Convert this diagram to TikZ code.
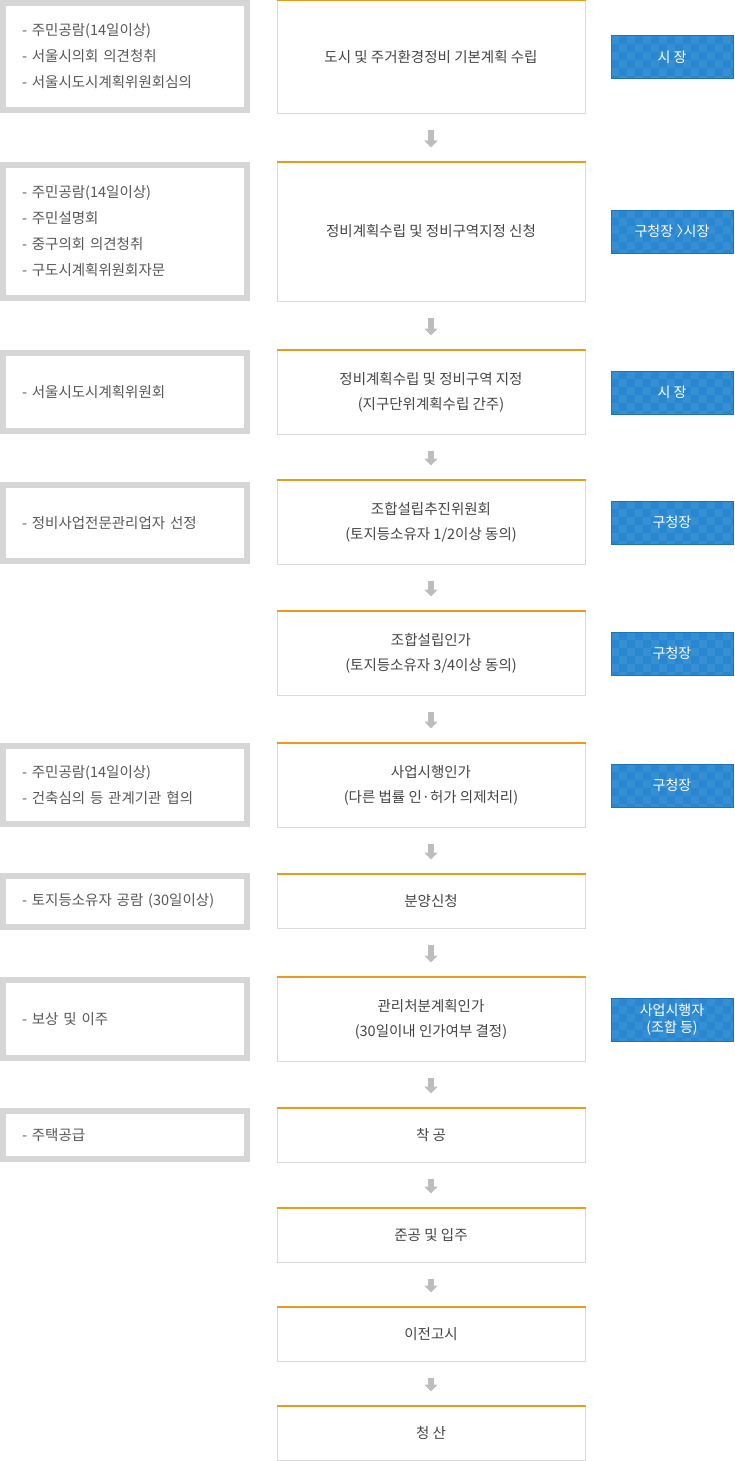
\documentclass[tikz,border=0pt]{standalone}
\usepackage{fontspec}
\setmainfont{Noto Sans CJK KR}
\usetikzlibrary{arrows.meta}
\definecolor{stepLineGray}{HTML}{D9D9D9}
\definecolor{noteGray}{HTML}{D6D6D6}
\definecolor{topOrange}{HTML}{E89B1E}
\definecolor{roleBlue}{HTML}{2887D0}
\definecolor{arrowGray}{HTML}{BDBDBD}
\definecolor{textGray}{HTML}{444444}
\tikzstyle{stepBox}=[draw = stepLineGray, line width = 1pt, minimum width = 308pt, inner sep = 0pt, align = center, text = textGray, font = \fontsize{14.5}{25}\selectfont]
\tikzstyle{noteBox}=[draw = noteGray, line width = 6pt, inner xsep = 19pt, inner ysep = 0pt, text width = 206pt, align = left, text = textGray!90, font = \fontsize{14.5}{26}\selectfont]
\tikzstyle{roleBox}=[fill = roleBlue, draw = roleBlue!85!black, line width = 1pt, minimum width = 122pt, minimum height = 43pt, inner sep = 0pt, align = center, text = white, font = \fontsize{14}{17}\selectfont,
  path picture = {\foreach \i in {0,...,15} \foreach \j in {0,...,5} {\pgfmathparse{int(mod(\i+\j,2))}
    \ifnum\pgfmathresult=0 \fill[white, opacity = 0.07] ([xshift = \i*8pt, yshift = -\j*8pt]path picture bounding box.north west) rectangle ++(8pt,-8pt);\fi}}]

\begin{document}
\begin{tikzpicture}[x = 1pt, y = -1pt]
\tikzstyle{topLine} = [draw = topOrange, line width = 2pt]
\tikzstyle{downArrow} = [draw = arrowGray, line width = 6pt, -{Triangle[width = 13pt, length = 7pt]}, shorten <= 16pt, shorten >= 14pt]
\useasboundingbox (0,0) rectangle (734,1461);
% main steps
\node[stepBox, minimum height = 113pt] (s1) at (431, 57.5) {도시 및 주거환경정비 기본계획 수립};
\node[stepBox, minimum height = 139pt] (s2) at (431, 231.5) {정비계획수립 및 정비구역지정 신청};
\node[stepBox, minimum height = 84pt] (s3) at (431, 392) {정비계획수립 및 정비구역 지정\\(지구단위계획수립 간주)};
\node[stepBox, minimum height = 84pt] (s4) at (431, 522) {조합설립추진위원회\\(토지등소유자 1/2이상 동의)};
\node[stepBox, minimum height = 84pt] (s5) at (431, 653) {조합설립인가\\(토지등소유자 3/4이상 동의)};
\node[stepBox, minimum height = 84pt] (s6) at (431, 785) {사업시행인가\\(다른 법률 인·허가 의제처리)};
\node[stepBox, minimum height = 54pt] (s7) at (431, 901) {분양신청};
\node[stepBox, minimum height = 84pt] (s8) at (431, 1019) {관리처분계획인가\\(30일이내 인가여부 결정)};
\node[stepBox, minimum height = 54pt] (s9) at (431, 1135) {착 공};
\node[stepBox, minimum height = 54pt] (s10) at (431, 1235) {준공 및 입주};
\node[stepBox, minimum height = 54pt] (s11) at (431, 1334) {이전고시};
\node[stepBox, minimum height = 54pt] (s12) at (431, 1433) {청 산};
\foreach \n in {s1,s2,s3,s4,s5,s6,s7,s8,s9,s10,s11,s12}
  \draw[topLine] (\n.north west) -- (\n.north east);
% procedures
\node[noteBox, minimum height = 107pt] (n1) at (125, 56.5) {- 주민공람(14일이상)\\- 서울시의회 의견청취\\- 서울시도시계획위원회심의};
\node[noteBox, minimum height = 133pt] (n2) at (125, 231.5) {- 주민공람(14일이상)\\- 주민설명회\\- 중구의회 의견청취\\- 구도시계획위원회자문};
\node[noteBox, minimum height = 78pt] (n3) at (125, 392) {- 서울시도시계획위원회};
\node[noteBox, minimum height = 76pt] (n4) at (125, 523) {- 정비사업전문관리업자 선정};
\node[noteBox, minimum height = 78pt] (n6) at (125, 785) {- 주민공람(14일이상)\\- 건축심의 등 관계기관 협의};
\node[noteBox, minimum height = 51pt] (n7) at (125, 901) {- 토지등소유자 공람 (30일이상)};
\node[noteBox, minimum height = 78pt] (n8) at (125, 1019) {- 보상 및 이주};
\node[noteBox, minimum height = 48pt] (n9) at (125, 1135) {- 주택공급};
% who decides
\node[roleBox] (r1) at (672, 57.5) {시 장};
\node[roleBox] (r2) at (672, 231.5) {구청장\hspace{0.25em}〉\hspace{-0.5em}시장};
\node[roleBox] (r3) at (672, 392.5) {시 장};
\node[roleBox] (r4) at (672, 522.5) {구청장};
\node[roleBox] (r5) at (672, 653.5) {구청장};
\node[roleBox] (r6) at (672, 785.5) {구청장};
\node[roleBox] (r8) at (672, 1019.5) {사업시행자\\(조합 등)};
% arrows
\foreach \a/\b in {s1/s2,s2/s3,s3/s4,s4/s5,s5/s6,s6/s7,s7/s8,s8/s9,s9/s10,s10/s11,s11/s12}
  \draw[downArrow] (\a) -- (\b);
\end{tikzpicture}
\end{document}
